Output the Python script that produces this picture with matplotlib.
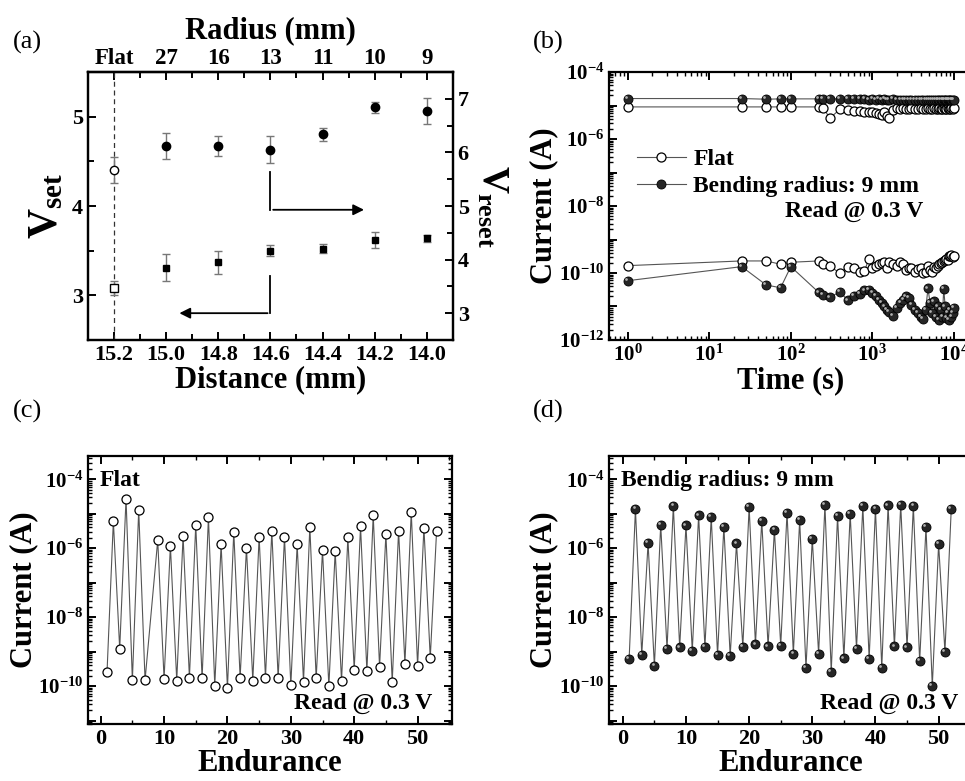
import matplotlib
matplotlib.use("Agg")
import matplotlib.pyplot as plt
import matplotlib.transforms as mtransforms
from matplotlib.ticker import MultipleLocator, FuncFormatter, LogLocator, NullFormatter
import numpy as np

plt.rcParams["font.family"] = ["Liberation Serif", "DejaVu Serif"]
plt.rcParams["font.weight"] = "bold"
plt.rcParams["axes.labelweight"] = "bold"
plt.rcParams["mathtext.fontset"] = "custom"
plt.rcParams["mathtext.rm"] = "Liberation Serif:bold"
plt.rcParams["mathtext.it"] = "Liberation Serif:bold"
plt.rcParams["mathtext.bf"] = "Liberation Serif:bold"
plt.rcParams["axes.linewidth"] = 1.6

# ---- (a) switching voltages vs bending ----
distance = [15.2, 15.0, 14.8, 14.6, 14.4, 14.2, 14.0]
radius_labels = ["Flat", "27", "16", "13", "11", "10", "9"]
v_set = [3.08, 3.31, 3.37, 3.50, 3.52, 3.62, 3.64]
v_set_err = [0.08, 0.15, 0.13, 0.06, 0.05, 0.09, 0.04]
v_reset = [5.67, 6.12, 6.12, 6.05, 6.34, 6.84, 6.78]
v_reset_err = [0.24, 0.25, 0.18, 0.25, 0.12, 0.11, 0.24]

# ---- (b) retention ----
time_s = [1, 25, 50, 75, 100, 220, 250, 300, 400, 500, 600, 700, 800, 900,
          1000, 1100, 1200, 1300, 1400, 1500, 1600, 1800, 2000, 2200, 2400,
          2600, 2800, 3000, 3300, 3600, 3900, 4200, 4500, 4800, 5100, 5400,
          5700, 6000, 6300, 6600, 6900, 7200, 7500, 7800, 8100, 8400, 8700,
          9000, 9300, 9600, 9900]
flat_on_log = [-5.04, -5.04, -5.04, -5.04, -5.04, -5.04, -5.06, -5.38, -5.11,
               -5.13, -5.15, -5.17, -5.18, -5.18, -5.19, -5.22, -5.25, -5.28,
               -5.18, -5.30, -5.36, -5.12, -5.08, -5.10, -5.08, -5.09, -5.10,
               -5.08, -5.09, -5.10, -5.08, -5.09, -5.10, -5.08, -5.09, -5.10,
               -5.08, -5.09, -5.10, -5.08, -5.09, -5.10, -5.08, -5.09, -5.10,
               -5.08, -5.09, -5.10, -5.08, -5.09, -5.08]
flat_off_log = [-9.78, -9.64, -9.64, -9.74, -9.68, -9.64, -9.72, -9.80, -10.0,
                -9.82, -9.86, -9.98, -9.95, -9.58, -9.86, -9.80, -9.72, -9.70,
                -9.66, -9.86, -9.68, -9.72, -9.80, -9.68, -9.72, -9.90, -9.86,
                -9.84, -9.96, -9.88, -9.86, -10.0, -9.96, -9.80, -9.92, -9.96,
                -9.82, -9.86, -9.78, -9.72, -9.70, -9.68, -9.64, -9.62, -9.58,
                -9.60, -9.50, -9.48, -9.46, -9.52, -9.50]
bend_on_log = [-4.79, -4.79, -4.81, -4.80, -4.80, -4.80, -4.81, -4.80, -4.80,
               -4.81, -4.81, -4.80, -4.81, -4.82, -4.81, -4.82, -4.81, -4.82,
               -4.81, -4.82, -4.82, -4.81, -4.82, -4.83, -4.82, -4.83, -4.82,
               -4.83, -4.82, -4.83, -4.84, -4.83, -4.82, -4.83, -4.84, -4.83,
               -4.82, -4.83, -4.84, -4.83, -4.84, -4.83, -4.82, -4.83, -4.84,
               -4.83, -4.84, -4.83, -4.84, -4.83, -4.82]
bend_off_log = [-10.23, -9.81, -10.36, -10.44, -9.81, -10.58, -10.66, -10.73,
                -10.56, -10.82, -10.68, -10.62, -10.52, -10.50, -10.60, -10.68,
                -10.80, -10.90, -11.00, -11.10, -11.16, -11.28, -11.05, -10.90,
                -10.80, -10.70, -10.75, -10.95, -11.10, -11.20, -11.30, -11.36,
                -11.10, -10.46, -10.90, -11.20, -10.85, -11.30, -11.00, -11.40,
                -11.10, -11.30, -10.48, -11.00, -11.35, -11.20, -11.40, -11.10,
                -11.30, -11.20, -11.05]

# ---- (c) endurance, flat ----
cycle_c = [1, 2, 3, 4, 5, 6, 7, 9, 10, 11, 12, 13, 14, 15, 16, 17, 18, 19, 20,
           21, 22, 23, 24, 25, 26, 27, 28, 29, 30, 31, 32, 33, 34, 35, 36, 37,
           38, 39, 40, 41, 42, 43, 44, 45, 46, 47, 48, 49, 50, 51, 52, 53]
flat_cycle_log = [-9.60, -5.22, -8.92, -4.56, -9.83, -4.89, -9.83, -5.77, -9.79,
                  -5.94, -9.84, -5.65, -9.76, -5.32, -9.78, -5.10, -9.99, -5.89,
                  -10.06, -5.52, -9.76, -5.99, -9.84, -5.67, -9.76, -5.50, -9.77,
                  -5.67, -9.98, -5.89, -9.87, -5.38, -9.78, -6.06, -10.01, -6.09,
                  -9.85, -5.69, -9.52, -5.37, -9.57, -5.04, -9.45, -5.59, -9.88,
                  -5.49, -9.35, -4.95, -9.41, -5.41, -9.18, -5.49]

# ---- (d) endurance, bent to 9 mm ----
cycle_d = list(range(1, 53))
bend_cycle_log = [-9.22, -4.87, -9.09, -5.85, -9.42, -5.32, -8.92, -4.78, -8.88,
                  -5.34, -8.98, -5.05, -8.87, -5.10, -9.10, -5.38, -9.13, -5.86,
                  -8.86, -4.81, -8.79, -5.20, -8.85, -5.47, -8.83, -4.97, -9.06,
                  -5.19, -9.47, -5.73, -9.07, -4.75, -9.58, -5.06, -9.20, -5.00,
                  -8.92, -4.78, -9.21, -4.86, -9.47, -4.76, -8.85, -4.74, -8.88,
                  -4.78, -9.28, -5.39, -10.00, -5.88, -9.00, -4.87]

fig = plt.figure(figsize=(9.65, 7.81), dpi=100)

tick_kw = dict(direction="in", width=1.4, labelsize=16)
line_col = "#555555"
dark = "#262626"


def pow_label(v, pos, even_only=True):
    e = int(round(np.log10(v)))
    if even_only and e % 2:
        return ""
    return r"$10^{%d}$" % e


def add_highlight(ax, x, y, ms):
    # small light dot to give the filled markers a shaded look
    tr = mtransforms.offset_copy(ax.transData, fig=fig, x=-ms * 0.2, y=ms * 0.2, units="points")
    ax.plot(x, y, "o", ms=ms * 0.3, color="#b0b0b0", mec="none", transform=tr, zorder=5)


def log_axes(ax, ylo, yhi):
    ax.set_yscale("log")
    ax.set_ylim(ylo, yhi)
    ax.yaxis.set_major_locator(LogLocator(base=10, numticks=20))
    ax.yaxis.set_minor_locator(LogLocator(base=10, subs=np.arange(2, 10), numticks=20))
    ax.yaxis.set_major_formatter(FuncFormatter(pow_label))
    ax.yaxis.set_minor_formatter(NullFormatter())
    ax.tick_params(which="both", top=True, right=True, **tick_kw)
    ax.tick_params(which="major", length=6)
    ax.tick_params(which="minor", length=3, width=1.0)
    ax.tick_params(axis="y", labelsize=15)


# (a)
ax_a = fig.add_axes([0.0912, 0.5647, 0.378, 0.343])
ax_a.set_xlim(15.3, 13.9)
ax_a.set_ylim(2.5, 5.5)
ax_a.axvline(distance[0], color="#333333", ls=(0, (4, 3)), lw=0.9)
ax_a.errorbar(distance, v_set, yerr=v_set_err, fmt="none", ecolor="#777777",
              elinewidth=1, capsize=3, capthick=1)
ax_a.plot(distance[1:], v_set[1:], "s", color="k", ms=5)
ax_a.plot(distance[:1], v_set[:1], "s", mfc="white", mec="k", ms=5.5, mew=1)
ax_a.xaxis.set_major_locator(MultipleLocator(0.2))
ax_a.xaxis.set_minor_locator(MultipleLocator(0.1))
ax_a.xaxis.set_major_formatter(FuncFormatter(lambda v, p: "%.1f" % v))
ax_a.yaxis.set_major_locator(MultipleLocator(1))
ax_a.yaxis.set_minor_locator(MultipleLocator(0.5))
ax_a.tick_params(which="both", top=False, right=False, **tick_kw)
ax_a.tick_params(which="major", length=6)
ax_a.tick_params(which="minor", length=4)
ax_a.set_xlabel("Distance (mm)", fontsize=22, labelpad=0)
ax_a.set_ylabel(r"$V_{set}$", fontsize=30, labelpad=4)
ax_a.annotate("", xy=(14.96, 2.80), xytext=(14.6, 2.80),
              arrowprops=dict(arrowstyle="-|>", color="k", lw=1.3, mutation_scale=16))
ax_a.plot([14.6, 14.6], [3.22, 2.80], color="k", lw=1.3)

ax_r = ax_a.twinx()
ax_r.set_ylim(2.5, 7.5)
ax_r.errorbar(distance, v_reset, yerr=v_reset_err, fmt="none", ecolor="#777777",
              elinewidth=1, capsize=3, capthick=1)
ax_r.plot(distance[1:], v_reset[1:], "o", color="k", ms=6)
ax_r.plot(distance[:1], v_reset[:1], "o", mfc="white", mec="k", ms=6, mew=1)
ax_r.yaxis.set_major_locator(MultipleLocator(1))
ax_r.yaxis.set_minor_locator(MultipleLocator(0.5))
ax_r.tick_params(which="both", **tick_kw)
ax_r.tick_params(which="major", length=6)
ax_r.tick_params(which="minor", length=4)
ax_r.set_ylabel(r"$V_{reset}$", fontsize=27, rotation=270, labelpad=29)
ax_r.annotate("", xy=(14.23, 4.93), xytext=(14.6, 4.93),
              arrowprops=dict(arrowstyle="-|>", color="k", lw=1.3, mutation_scale=16))
ax_r.plot([14.6, 14.6], [5.64, 4.93], color="k", lw=1.3)

ax_top = ax_a.secondary_xaxis("top")
ax_top.set_xticks(distance, labels=radius_labels)
ax_top.xaxis.set_minor_locator(MultipleLocator(0.1))
ax_top.tick_params(which="both", **tick_kw)
ax_top.tick_params(which="major", length=6, labelsize=16.5, pad=2.5)
ax_top.tick_params(which="minor", length=4)
ax_top.set_xlabel("Radius (mm)", fontsize=22, labelpad=7)

# (b)
ax_b = fig.add_axes([0.631, 0.5647, 0.377, 0.343])
ax_b.set_xscale("log")
ax_b.set_xlim(10 ** -0.23, 10 ** 4.23)
log_axes(ax_b, 1e-12, 1e-4)
ax_b.xaxis.set_major_locator(LogLocator(base=10, numticks=20))
ax_b.xaxis.set_minor_locator(LogLocator(base=10, subs=np.arange(2, 10), numticks=20))
ax_b.xaxis.set_major_formatter(FuncFormatter(lambda v, p: pow_label(v, p, False)))
ax_b.xaxis.set_minor_formatter(NullFormatter())
ax_b.tick_params(axis="x", labelsize=15)
t = np.array(time_s)
l1, = ax_b.plot(t, 10 ** np.array(flat_on_log), "-o", color=line_col, lw=0.8,
                mfc="white", mec="k", ms=6.5, mew=0.9, label="Flat")
ax_b.plot(t, 10 ** np.array(flat_off_log), "-o", color=line_col, lw=0.8,
          mfc="white", mec="k", ms=6.5, mew=0.9)
l2, = ax_b.plot(t, 10 ** np.array(bend_on_log), "-o", color=line_col, lw=0.8,
                mfc=dark, mec="k", ms=6.5, mew=0.6, label="Bending radius: 9 mm")
ax_b.plot(t, 10 ** np.array(bend_off_log), "-o", color=line_col, lw=0.8,
          mfc=dark, mec="k", ms=6.5, mew=0.6)
add_highlight(ax_b, t, 10 ** np.array(bend_on_log), 6.5)
add_highlight(ax_b, t, 10 ** np.array(bend_off_log), 6.5)
ax_b.legend(handles=[l1, l2], loc="upper left", bbox_to_anchor=(0.05, 0.75),
            frameon=False, fontsize=17, handlelength=2.1, handletextpad=0.3,
            labelspacing=0.25, borderaxespad=0)
ax_b.text(0.865, 0.478, "Read @ 0.3 V", transform=ax_b.transAxes, ha="right",
          va="center", fontsize=17)
ax_b.set_xlabel("Time (s)", fontsize=22, labelpad=0)
ax_b.set_ylabel("Current (A)", fontsize=22, labelpad=0)

# (c)
ax_c = fig.add_axes([0.0912, 0.073, 0.377, 0.343])
ax_c.set_xlim(-2, 55.4)
log_axes(ax_c, 10 ** -11.1, 10 ** -3.33)
ax_c.xaxis.set_major_locator(MultipleLocator(10))
ax_c.xaxis.set_minor_locator(MultipleLocator(5))
ax_c.plot(cycle_c, 10 ** np.array(flat_cycle_log), "-o", color=line_col, lw=0.8,
          mfc="white", mec="k", ms=6.5, mew=0.9)
ax_c.text(0.033, 0.948, "Flat", transform=ax_c.transAxes, ha="left", va="top", fontsize=17)
ax_c.text(0.945, 0.075, "Read @ 0.3 V", transform=ax_c.transAxes, ha="right",
          va="center", fontsize=17)
ax_c.set_xlabel("Endurance", fontsize=22, labelpad=0)
ax_c.set_ylabel("Current (A)", fontsize=22, labelpad=0)

# (d)
ax_d = fig.add_axes([0.631, 0.073, 0.377, 0.343])
ax_d.set_xlim(-2.2, 55.4)
log_axes(ax_d, 10 ** -11.1, 10 ** -3.33)
ax_d.xaxis.set_major_locator(MultipleLocator(10))
ax_d.xaxis.set_minor_locator(MultipleLocator(5))
ax_d.plot(cycle_d, 10 ** np.array(bend_cycle_log), "-o", color=line_col, lw=0.8,
          mfc=dark, mec="k", ms=6.5, mew=0.6)
add_highlight(ax_d, cycle_d, 10 ** np.array(bend_cycle_log), 6.5)
ax_d.text(0.033, 0.948, "Bendig radius: 9 mm", transform=ax_d.transAxes, ha="left",
          va="top", fontsize=17)
ax_d.text(0.96, 0.075, "Read @ 0.3 V", transform=ax_d.transAxes, ha="right",
          va="center", fontsize=17)
ax_d.set_xlabel("Endurance", fontsize=22, labelpad=0)
ax_d.set_ylabel("Current (A)", fontsize=22, labelpad=0)

# panel letters
for lab, x, y in [("(a)", 0.013, 0.96), ("(b)", 0.552, 0.96),
                  ("(c)", 0.013, 0.488), ("(d)", 0.552, 0.488)]:
    fig.text(x, y, lab, fontsize=19, fontweight="normal", va="top", ha="left")

fig.savefig("out.png", dpi=100)
